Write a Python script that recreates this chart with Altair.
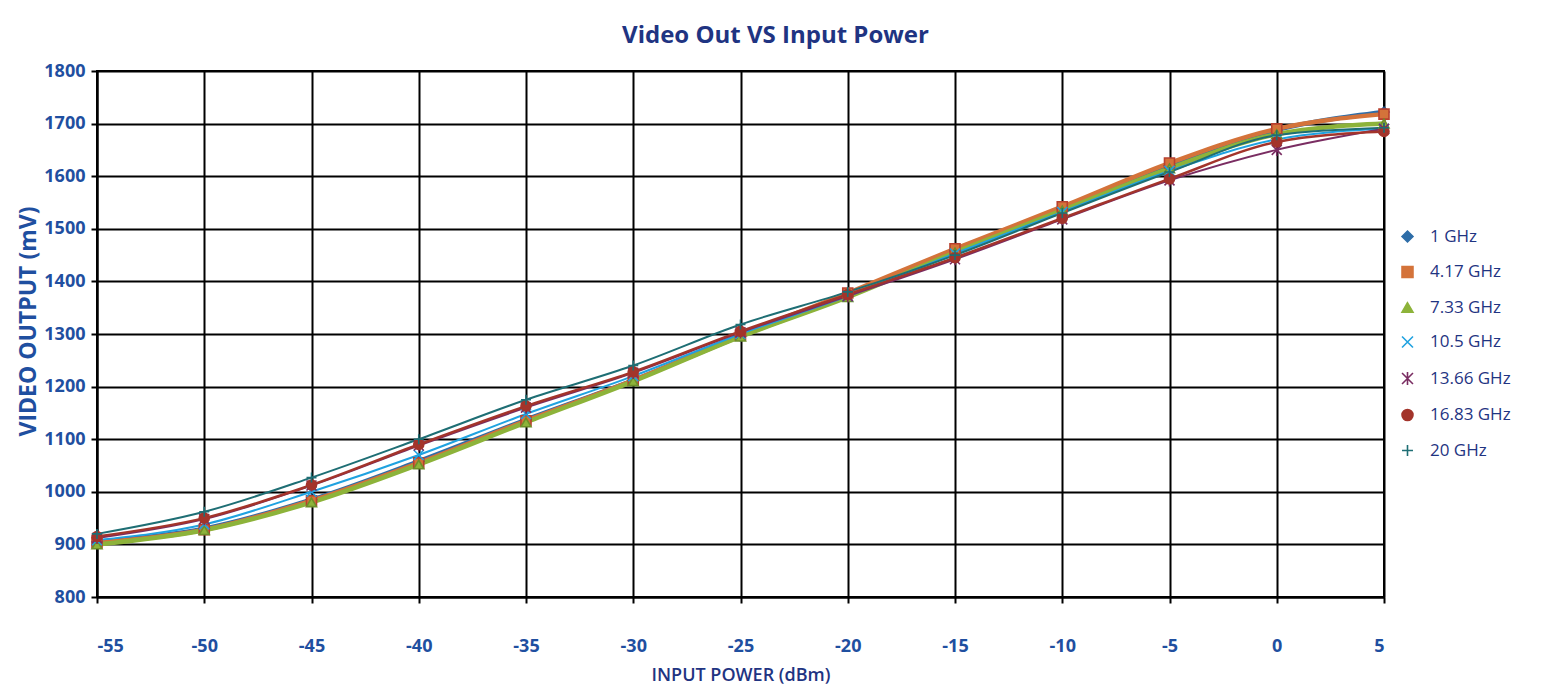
import altair as alt
import pandas as pd

power = [-55, -50, -45, -40, -35, -30, -25, -20, -15, -10, -5, 0, 5]
series_names = ["1 GHz", "4.17 GHz", "7.33 GHz", "10.5 GHz", "13.66 GHz", "16.83 GHz", "20 GHz"]

v_1 = [905, 930, 985, 1058, 1137, 1212, 1296, 1372, 1458, 1538, 1620, 1688, 1722]
v_4_17 = [903, 928, 983, 1055, 1135, 1212, 1298, 1378, 1462, 1542, 1625, 1690, 1718]
v_7_33 = [900, 927, 980, 1052, 1132, 1210, 1295, 1370, 1455, 1535, 1615, 1680, 1700]
v_10_5 = [908, 938, 1000, 1070, 1148, 1220, 1300, 1372, 1453, 1532, 1610, 1670, 1690]
v_13_66 = [912, 948, 1012, 1088, 1160, 1226, 1303, 1372, 1442, 1518, 1592, 1650, 1690]
v_16_83 = [915, 950, 1013, 1090, 1163, 1228, 1305, 1375, 1445, 1520, 1595, 1665, 1685]
v_20 = [920, 962, 1027, 1100, 1175, 1240, 1318, 1380, 1450, 1530, 1608, 1678, 1692]

colors = ["#2E6DA8", "#D4733A", "#8DB33A", "#1FA2E0", "#7A2D62", "#A3342B", "#1E6E74"]
strokes = ["#1F4F85", "#B8402F", "#6E8F2A", "#1FA2E0", "#7A2D62", "#A3342B", "#1E6E74"]
shapes = ["diamond", "square", "triangle-up",
          "M-1,-1L1,1M-1,1L1,-1",
          "M-1,-1L1,1M-1,1L1,-1M0,-1.2L0,1.2",
          "circle",
          "M-1,0L1,0M0,-1L0,1"]
widths = [4.5, 4.5, 4.5, 2, 2, 2.5, 2]

all_vals = [v_1, v_4_17, v_7_33, v_10_5, v_13_66, v_16_83, v_20]
rows = []
for name, vals, w in zip(series_names, all_vals, widths):
    for p, v in zip(power, vals):
        rows.append({"power": p, "mv": v, "series": name, "w": w})
df = pd.DataFrame(rows)

text_blue = "#1F4FA0"
navy = "#1F3482"
font = "Open Sans"

x = alt.X("power:Q", scale=alt.Scale(domain=[-55, 5], nice=False),
          axis=alt.Axis(values=power, title="INPUT POWER (dBm)", labelPadding=34,
                        titlePadding=11, labelExpr="'' + datum.value"))
y = alt.Y("mv:Q", scale=alt.Scale(domain=[800, 1800], nice=False),
          axis=alt.Axis(values=list(range(800, 1801, 100)), title="VIDEO OUTPUT (mV)",
                        titleX=-69, titleY=250, titleBaseline="middle", titleAlign="center",
                        labelExpr="'' + datum.value"))
color_scale = alt.Scale(domain=series_names, range=colors)
stroke_scale = alt.Scale(domain=series_names, range=strokes)
shape_scale = alt.Scale(domain=series_names, range=shapes)

leg = dict(title=None, orient="none", legendX=1302, legendY=157,
           labelFontSize=17, labelColor=navy, labelFont=font,
           symbolSize=120, rowPadding=16.5, symbolStrokeWidth=1.6, labelOffset=14)

lines = alt.Chart(df).mark_line(interpolate="monotone").encode(
    x=x, y=y,
    color=alt.Color("series:N", scale=color_scale, sort=series_names,
                    legend=alt.Legend(**leg)),
    strokeWidth=alt.StrokeWidth("w:Q", scale=None),
    detail="series:N",
)

points = alt.Chart(df).mark_point(filled=True, size=100, strokeWidth=1.6, opacity=1).encode(
    x=x, y=y,
    color=alt.Color("series:N", scale=color_scale, sort=series_names,
                    legend=alt.Legend(**leg)),
    shape=alt.Shape("series:N", scale=shape_scale, sort=series_names,
                    legend=alt.Legend(**leg)),
    stroke=alt.Stroke("series:N", scale=stroke_scale, sort=series_names,
                      legend=alt.Legend(**leg)),
)

chart = alt.layer(lines, points).properties(
    width=1287, height=526,
    background="white",
    title=alt.TitleParams("Video Out VS Input Power", fontSize=24, font=font,
                          fontWeight="bold", color=navy, anchor="middle", offset=14,
                          dx=35),
    autosize=alt.AutoSizeParams(type="none"),
    padding={"left": 89, "top": 63, "right": 150, "bottom": 93},
).configure_view(stroke="black", strokeWidth=2).configure_axis(
    grid=True, gridColor="black", gridWidth=2, gridOpacity=1,
    domainColor="black", domainWidth=2, tickColor="black", tickSize=6, tickWidth=2,
    labelFont=font, labelFontSize=18, labelFontWeight="bold", labelColor=text_blue,
    titleFont=font, titleFontSize=18, titleFontWeight=600, titleColor=navy,
).configure_axisY(titleFontWeight="bold", titleColor=text_blue, labelPadding=6,
                  titleFontSize=23)

chart.save("out.html", embed_options={"renderer": "svg", "actions": False})
